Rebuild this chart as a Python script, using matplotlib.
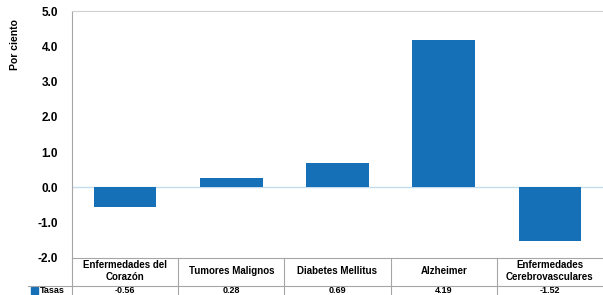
import matplotlib

matplotlib.use("Agg")
import matplotlib.pyplot as plt
from matplotlib.patches import Rectangle

plt.rcParams["font.family"] = ["Liberation Sans", "DejaVu Sans"]
plt.rcParams["font.weight"] = "bold"

categorias = ["Enfermedades del\nCorazón", "Tumores Malignos", "Diabetes Mellitus",
              "Alzheimer", "Enfermedades\nCerebrovasculares"]
tasas = [-0.56, 0.28, 0.69, 4.19, -1.52]
serie = "Tasas"
yticks = [-2.0, -1.0, 0.0, 1.0, 2.0, 3.0, 4.0, 5.0]

AZUL = "#1570b7"
GRIS = "#a6a6a6"

fig = plt.figure(figsize=(6.03, 2.95), dpi=100)
ax = fig.add_axes([72 / 603, 1 - 258 / 295, 531 / 603, 247 / 295])

x = list(range(len(tasas)))
ax.bar(x, tasas, width=0.59, color=AZUL, zorder=3)
ax.axhline(0, color="#c5dcee", linewidth=1.0, zorder=2)

ax.set_xlim(-0.5, len(tasas) - 0.5)
ax.set_ylim(-2.0, 5.0)
ax.set_yticks(yticks)
ax.set_yticklabels([f"{v:.1f}" for v in yticks], fontsize=8.5, fontweight="bold")
ax.tick_params(axis="y", length=0, pad=10)
ax.set_xticks([])
ax.set_ylabel("Por ciento", fontsize=7.5, fontweight="bold")
ax.yaxis.set_label_coords(-0.098, 0.866)

ax.spines["right"].set_visible(False)
ax.spines["top"].set_color("#d0d0d0")
ax.spines["left"].set_color(GRIS)
ax.spines["bottom"].set_color(GRIS)

# Tabla de datos bajo el eje (coordenadas de figura en px).
def fx(px):
    return px / 603


def fy(py):
    return 1 - py / 295


lineas = dict(color=GRIS, linewidth=0.8, transform=fig.transFigure)
ancho = 531 / len(tasas)
# eje izquierdo prolongado
fig.add_artist(plt.Line2D([fx(72), fx(72)], [fy(258), fy(295)], **lineas))
for i in range(1, len(tasas)):
    xc = 72 + i * ancho
    fig.add_artist(plt.Line2D([fx(xc), fx(xc)], [fy(258), fy(295)], **lineas))
fig.add_artist(plt.Line2D([fx(28), fx(603)], [fy(285.5), fy(285.5)], **lineas))

for i, (cat, v) in enumerate(zip(categorias, tasas)):
    xc = 72 + (i + 0.5) * ancho
    fig.text(fx(xc), fy(271.5), cat, ha="center", va="center", fontsize=7,
             fontweight="bold", linespacing=1.25, multialignment="center")
    fig.text(fx(xc), fy(290.5), f"{v:.2f}", ha="center", va="center", fontsize=6.5,
             fontweight="bold")

fig.add_artist(Rectangle((fx(31), fy(294)), fx(7), 7 / 295, color=AZUL,
                         transform=fig.transFigure))
fig.text(fx(40), fy(290.5), serie, ha="left", va="center", fontsize=6.5,
         fontweight="bold")

fig.savefig("out.png", dpi=100, facecolor="white")
